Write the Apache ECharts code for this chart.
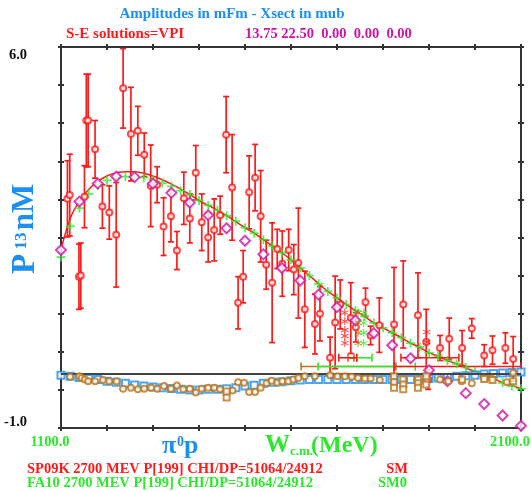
<!DOCTYPE html>
<html>
<head>
<meta charset="utf-8">
<script src="https://cdn.jsdelivr.net/npm/echarts@6/dist/echarts.min.js"></script>
<style>
  html, body { margin: 0; padding: 0; background: #ffffff; }
  #chart { width: 531px; height: 492px; }
</style>
</head>
<body>
<div id="chart"></div>
<script>
// ---- axis ranges and tick labels ----
const xMin = 1100, xMax = 2100, xStep = 100;
const yMin = -1, yMax = 6, yStep = 0.7;
const xTickValues = [1100, 2100];
const xTickLabels = ['1100.0', '2100.0'];
const yTickValues = [6, -1];
const yTickLabels = ['6.0', '-1.0'];

// ---- energy grid of the global fits (MeV) ----
const fitW = [1100, 1120, 1140, 1160, 1180, 1200, 1220, 1240, 1260, 1280,
              1300, 1320, 1340, 1360, 1380, 1400, 1420, 1440, 1460, 1480,
              1500, 1520, 1540, 1560, 1580, 1600, 1620, 1640, 1660, 1680,
              1700, 1720, 1740, 1760, 1780, 1800, 1820, 1840, 1860, 1880,
              1900, 1920, 1940, 1960, 1980, 2000, 2020, 2040, 2060, 2080, 2100];

// SP09K real part (solid curve)
const smReal = [2.28, 2.85, 3.17, 3.38, 3.53, 3.63, 3.69, 3.71, 3.71, 3.68,
                3.63, 3.56, 3.48, 3.39, 3.29, 3.18, 3.09, 3.00, 2.90, 2.79,
                2.68, 2.58, 2.46, 2.34, 2.22, 2.09, 1.94, 1.80, 1.65, 1.51,
                1.39, 1.27, 1.16, 1.05, 0.93, 0.84, 0.75, 0.66, 0.56, 0.48,
                0.38, 0.32, 0.24, 0.18, 0.10, 0.04, -0.04, -0.09, -0.17, -0.22, -0.28];

// FA10 real part (green crosses)
const sm0Real = [2.14, 2.71, 3.04, 3.30, 3.46, 3.55, 3.60, 3.62, 3.62, 3.60,
                 3.56, 3.50, 3.44, 3.36, 3.29, 3.18, 3.09, 3.00, 2.90, 2.80,
                 2.68, 2.58, 2.46, 2.34, 2.22, 2.09, 1.94, 1.80, 1.65, 1.51,
                 1.39, 1.27, 1.16, 1.05, 0.93, 0.84, 0.75, 0.66, 0.56, 0.49,
                 0.38, 0.32, 0.24, 0.18, 0.11, 0.04, -0.04, -0.09, -0.17, -0.23, -0.28];

// SP09K imaginary part (blue squares)
const smImag = [-0.03, -0.05, -0.07, -0.09, -0.11, -0.14, -0.16, -0.18, -0.21, -0.23,
                -0.245, -0.26, -0.275, -0.29, -0.30, -0.30, -0.29, -0.29, -0.28, -0.26,
                -0.23, -0.215, -0.18, -0.16, -0.15, -0.13, -0.12, -0.11, -0.11, -0.11,
                -0.11, -0.11, -0.11, -0.11, -0.11, -0.11, -0.11, -0.11, -0.11, -0.10,
                -0.09, -0.08, -0.07, -0.05, -0.04, -0.03, -0.01, 0.00, 0.01, 0.02, 0.03];

// VPI comparison amplitude (magenta diamonds)
const vpiW = [1100, 1140, 1180, 1220, 1260, 1300, 1340, 1380, 1420, 1460, 1500, 1540, 1580,
              1620, 1660, 1700, 1740, 1780, 1820, 1860, 1900, 1940, 1980, 2020, 2060, 2100];
const vpiReal = [2.27, 3.16, 3.49, 3.62, 3.61, 3.49, 3.32, 3.14, 2.91, 2.67, 2.44, 2.19, 1.94,
                 1.71, 1.45, 1.22, 0.98, 0.74, 0.52, 0.28, 0.06, -0.14, -0.36, -0.56, -0.77, -0.96];

// single-energy solutions, real part: [W, value, error]
const seReal = [
  [1114, 3.21, 0.70], [1119, 3.28, 0.75], [1139, 1.78, 0.60], [1143, 1.80, 0.60],
  [1151, 3.25, 0.57], [1155, 4.65, 0.85], [1159, 4.65, 0.85], [1174, 4.12, 0.53],
  [1190, 3.07, 0.40], [1205, 2.96, 0.49], [1220, 2.55, 0.96], [1235, 5.24, 0.73],
  [1252, 4.40, 0.86], [1267, 4.46, 0.45], [1281, 4.02, 0.40], [1295, 3.45, 0.75],
  [1309, 3.47, 0.33], [1323, 2.70, 0.53], [1339, 2.89, 0.47], [1352, 2.26, 0.35],
  [1367, 3.22, 0.48], [1380, 2.85, 0.45], [1393, 3.69, 0.50], [1406, 2.78, 0.52],
  [1420, 2.50, 0.45], [1433, 2.64, 0.57], [1446, 2.91, 0.35], [1459, 4.39, 0.70],
  [1472, 3.42, 0.97], [1485, 1.30, 0.48], [1496, 1.78, 0.48], [1509, 3.33, 0.67],
  [1522, 3.60, 0.61], [1534, 2.89, 0.84], [1546, 2.00, 0.45], [1559, 1.67, 1.10],
  [1570, 2.29, 0.36], [1581, 2.02, 0.60], [1595, 2.27, 0.38], [1606, 1.91, 0.46],
  [1616, 2.03, 1.01], [1630, 1.18, 0.70], [1652, 0.91, 0.55], [1663, 1.10, 0.50],
  [1685, 0.29, 0.38], [1696, 0.94, 0.85], [1707, 1.27, 0.45], [1730, 1.02, 0.65],
  [1741, 0.85, 0.27], [1762, 1.31, 0.26], [1773, 0.70, 0.17], [1792, 0.89, 0.50],
  [1824, 0.90, 1.05], [1844, 1.27, 0.80], [1876, 1.07, 0.78], [1894, 0.58, 0.60],
  [1898, -0.11, 0.18], [1924, 0.47, 0.23], [1944, 0.64, 0.38], [1972, 0.47, 0.32],
  [1993, 0.83, 0.18], [2020, 0.33, 0.20], [2038, 0.43, 0.26], [2066, 0.47, 0.28],
  [2083, 0.27, 0.41]
];

// single-energy solutions, imaginary part: [W, value]
const seImag = [
  [1120, -0.06], [1140, -0.05], [1145, -0.08], [1152, -0.11], [1159, -0.14], [1174, -0.14],
  [1191, -0.12], [1205, -0.14], [1221, -0.14], [1235, -0.28], [1252, -0.26], [1267, -0.29],
  [1281, -0.28], [1296, -0.26], [1309, -0.28], [1324, -0.23], [1339, -0.28], [1352, -0.22],
  [1366, -0.29], [1380, -0.28], [1393, -0.35], [1406, -0.28], [1420, -0.26], [1433, -0.26],
  [1446, -0.29], [1473, -0.31], [1485, -0.16], [1498, -0.17], [1509, -0.34], [1522, -0.34],
  [1534, -0.26], [1547, -0.18], [1558, -0.13], [1570, -0.17], [1581, -0.14], [1594, -0.14],
  [1605, -0.11], [1616, -0.08], [1630, -0.05], [1652, -0.05], [1685, -0.03], [1701, -0.05],
  [1717, -0.05], [1732, -0.06], [1746, -0.08], [1761, -0.09], [1773, -0.09], [1793, -0.12],
  [1895, -0.11], [1924, -0.11], [1942, -0.14], [1971, -0.14], [1993, -0.18], [2020, -0.09],
  [2036, -0.09], [2069, -0.16], [2083, 0.01]
];
const seImagAlt = [
  [1460, -0.44], [1460, -0.33], [1824, -0.05], [1824, -0.16], [1824, -0.26],
  [1844, -0.11], [1844, -0.20], [1844, -0.29], [1876, -0.11], [1876, -0.18], [1876, -0.26],
  [1894, -0.05], [1894, -0.20], [1972, -0.11], [2020, -0.10], [2038, -0.12], [2083, -0.14]
];

// resonance pole markers
const poleRed = [[1717, 1.12], [1717, 0.96], [1717, 0.80], [1717, 0.69], [1717, 0.56], [1895, 0.76], [1895, 0.58]];
const poleGreen = [[1758, 1.12], [1758, 0.93], [1758, 0.75], [1758, 0.56]];
const poleBrown = [[1746, 1.12], [1746, 0.93], [1746, 0.75], [1746, 0.56]];

// resonance widths: [W low, W high, level]
const widthRed = [[1824, 2100, 0.13], [1704, 1743, 0.29], [1839, 1965, 0.29]];
const widthBrown = [[1622, 1828, 0.13], [1724, 1737, 0.29]];
const widthGreen = [[1659, 1870, 0.13], [1743, 1776, 0.29]];

// resonance tags: [W, level, text]
const tagRed = [[1720, -0.24, 'P'], [1904, -0.24, 'P']];
const tagBrown = [[1737, -0.24, 'I']];
const tagGreen = [[1765, -0.24, 'S']];

// ---- colours ----
const RED = '#ff1a1a';
const GREEN = '#2ee82e';
const BLUE = '#1e8fef';
const MAGENTA = '#cc15a8';
const BROWN = '#bb7419';
const FRAME = '#333333';
const SERIF = '"Liberation Serif", "DejaVu Serif", serif';

const zip = (xs, ys) => xs.map((x, i) => [x, ys[i]]);

const plusSymbol = 'path://M4,0H6V4H10V6H6V10H4V6H0V4H4Z';
const starSymbol = 'path://M4.4,0H5.6V10H4.4Z M0.97,1.98L9.63,6.98L9.03,8.02L0.37,3.02Z M0.37,6.98L9.03,1.98L9.63,3.02L0.97,8.02Z';

function errorBars(color) {
  return function (params, api) {
    const x = api.value(0), y = api.value(1), e = api.value(2);
    const top = api.coord([x, y + e]);
    const bot = api.coord([x, y - e]);
    const cx = top[0];
    const st = { stroke: color, lineWidth: 1.7 };
    return {
      type: 'group',
      children: [
        { type: 'line', shape: { x1: cx, y1: top[1], x2: cx, y2: bot[1] }, style: st },
        { type: 'line', shape: { x1: cx - 3, y1: top[1], x2: cx + 3, y2: top[1] }, style: st },
        { type: 'line', shape: { x1: cx - 3, y1: bot[1], x2: cx + 3, y2: bot[1] }, style: st }
      ]
    };
  };
}

function widthBars(color) {
  return function (params, api) {
    const a = api.coord([api.value(0), api.value(2)]);
    const b = api.coord([api.value(1), api.value(2)]);
    const st = { stroke: color, lineWidth: 1.6 };
    return {
      type: 'group',
      children: [
        { type: 'line', shape: { x1: a[0], y1: a[1], x2: b[0], y2: b[1] }, style: st },
        { type: 'line', shape: { x1: a[0], y1: a[1] - 4, x2: a[0], y2: a[1] + 4 }, style: st },
        { type: 'line', shape: { x1: b[0], y1: b[1] - 4, x2: b[0], y2: b[1] + 4 }, style: st }
      ]
    };
  };
}

function xAxisDef(position, inside, showLine) {
  return {
    type: 'value', min: xMin, max: xMax, interval: xStep, position: position,
    axisLine: { show: showLine, onZero: false, lineStyle: { color: FRAME, width: 2 } },
    axisTick: { show: true, inside: inside, length: 3, lineStyle: { color: FRAME, width: 2 } },
    axisLabel: { show: false }, splitLine: { show: false }
  };
}
function yAxisDef(position, inside, showLine) {
  return {
    type: 'value', min: yMin, max: yMax, interval: yStep, position: position,
    axisLine: { show: showLine, onZero: false, lineStyle: { color: FRAME, width: 2 } },
    axisTick: { show: true, inside: inside, length: 3, lineStyle: { color: FRAME, width: 2 } },
    axisLabel: { show: false }, splitLine: { show: false }
  };
}

function tagSeries(data, color) {
  return {
    type: 'scatter', data: data, symbolSize: 1, silent: true, z: 6,
    itemStyle: { opacity: 0 },
    label: {
      show: true, position: 'inside', formatter: p => p.value[2],
      color: color, fontFamily: 'Liberation Serif', fontSize: 20, fontWeight: 'normal'
    }
  };
}

const chart = echarts.init(document.getElementById('chart'), null, { renderer: 'canvas' });

const option = {
  animation: false,
  backgroundColor: '#ffffff',
  grid: { left: 61, right: 10, top: 47, bottom: 64, containLabel: false },
  xAxis: [xAxisDef('bottom', false, true), xAxisDef('bottom', true, false),
          xAxisDef('top', false, true), xAxisDef('top', true, false)],
  yAxis: [yAxisDef('left', false, true), yAxisDef('left', true, false),
          yAxisDef('right', false, true), yAxisDef('right', true, false)],
  series: [
    {
      type: 'line', data: zip(fitW, smReal), smooth: 0.3, showSymbol: false, z: 3,
      lineStyle: { color: RED, width: 1.5 }, silent: true,
      markLine: {
        silent: true, symbol: 'none', label: { show: false },
        lineStyle: { color: '#444444', width: 2, type: 'solid' },
        data: [{ yAxis: 0 }]
      }
    },
    {
      type: 'scatter', data: zip(fitW, sm0Real), symbol: plusSymbol, symbolSize: 9, z: 4,
      itemStyle: { color: GREEN }
    },
    {
      type: 'custom', data: seReal, renderItem: errorBars(RED), z: 2,
      encode: { x: 0, y: 1 }
    },
    {
      type: 'scatter', data: seReal.map(d => [d[0], d[1]]), symbol: 'emptyCircle', symbolSize: 6, z: 5,
      itemStyle: { color: RED, borderColor: RED, borderWidth: 1.7 }
    },
    {
      type: 'scatter', data: zip(vpiW, vpiReal), symbol: 'emptyDiamond', symbolSize: 10, z: 5,
      itemStyle: { color: MAGENTA, borderColor: MAGENTA, borderWidth: 1.5 }
    },
    {
      type: 'scatter', data: zip(fitW, smImag), symbol: 'emptyRect', symbolSize: 7, z: 4,
      itemStyle: { color: BLUE, borderColor: BLUE, borderWidth: 1.3 }
    },
    {
      type: 'scatter', data: seImag, symbol: 'emptyCircle', symbolSize: 6, z: 5,
      itemStyle: { color: BROWN, borderColor: BROWN, borderWidth: 2 }
    },
    {
      type: 'scatter', data: seImagAlt, symbol: 'emptyRect', symbolSize: 6, z: 5,
      itemStyle: { color: BROWN, borderColor: BROWN, borderWidth: 1.5 }
    },
    { type: 'custom', data: widthBrown, renderItem: widthBars(BROWN), z: 3, encode: { x: [0, 1], y: 2 } },
    { type: 'custom', data: widthGreen, renderItem: widthBars(GREEN), z: 3, encode: { x: [0, 1], y: 2 } },
    { type: 'custom', data: widthRed, renderItem: widthBars(RED), z: 3, encode: { x: [0, 1], y: 2 } },
    { type: 'scatter', data: poleRed, symbol: starSymbol, symbolSize: 8, z: 5, itemStyle: { color: RED } },
    { type: 'scatter', data: poleBrown, symbol: starSymbol, symbolSize: 8, z: 5, itemStyle: { color: BROWN } },
    { type: 'scatter', data: poleGreen, symbol: starSymbol, symbolSize: 8, z: 5, itemStyle: { color: GREEN } },
    tagSeries(tagRed, RED),
    tagSeries(tagBrown, BROWN),
    tagSeries(tagGreen, GREEN)
  ]
};
chart.setOption(option);

// ---- text placed around the frame ----
const px = v => chart.convertToPixel({ xAxisIndex: 0 }, v);
const py = v => chart.convertToPixel({ yAxisIndex: 0 }, v);
const frameLeft = px(xMin), frameBottom = py(yMin);

const bold = size => 'bold ' + size + 'px ' + SERIF;
const txt = (x, y, text, font, fill, align, extra) =>
  Object.assign({ type: 'text', x: x, y: y, silent: true,
    style: { text: text, font: font, fill: fill, align: align || 'left', verticalAlign: 'middle' } }, extra || {});

const graphics = [];
// x tick labels
xTickValues.forEach((v, i) => {
  graphics.push(txt(px(v) - 11, frameBottom + 14.5, xTickLabels[i], bold(14.5), GREEN, 'center'));
});
// y tick labels
yTickValues.forEach((v, i) => {
  const y = v === yMax ? py(v) + 8 : py(v) - 6;
  graphics.push(txt(frameLeft - 34, y, yTickLabels[i], bold(14.5), '#111111', 'right'));
});
// headings
graphics.push(txt(232, 14, 'Amplitudes in mFm - Xsect in mub', bold(15), BLUE, 'center'));
graphics.push(txt(66, 34, 'S-E solutions=VPI', bold(15), RED));
graphics.push(txt(245, 34, '13.75 22.50  0.00  0.00  0.00', bold(14.5), MAGENTA));
// y-axis title (rotated)
const up = { rotation: Math.PI / 2 };
graphics.push(txt(25, 264, 'P', bold(33), BLUE, 'center', up));
graphics.push(txt(22, 241, '13', bold(17), BLUE, 'center', up));
graphics.push(txt(25, 207, 'nM', bold(31), BLUE, 'center', up));
// x-axis titles
graphics.push(txt(162, 446, 'π', bold(26), BLUE));
graphics.push(txt(177, 442, '0', bold(14), BLUE));
graphics.push(txt(184, 446, 'p', bold(26), BLUE));
graphics.push(txt(265, 445.5, 'W', bold(25), GREEN));
graphics.push(txt(290, 451.5, 'c.m.', bold(13), GREEN));
graphics.push(txt(311, 446, '(MeV)', bold(24), GREEN));
// solution legends
graphics.push(txt(27, 469, 'SP09K 2700 MEV P[199] CHI/DP=51064/24912', bold(14.5), RED));
graphics.push(txt(408, 469, 'SM', bold(14.5), RED, 'right'));
graphics.push(txt(27, 483.5, 'FA10 2700 MEV P[199] CHI/DP=51064/24912', bold(14.5), GREEN));
graphics.push(txt(407, 483.5, 'SM0', bold(14.5), GREEN, 'right'));

chart.setOption({ graphic: graphics });
</script>
</body>
</html>
